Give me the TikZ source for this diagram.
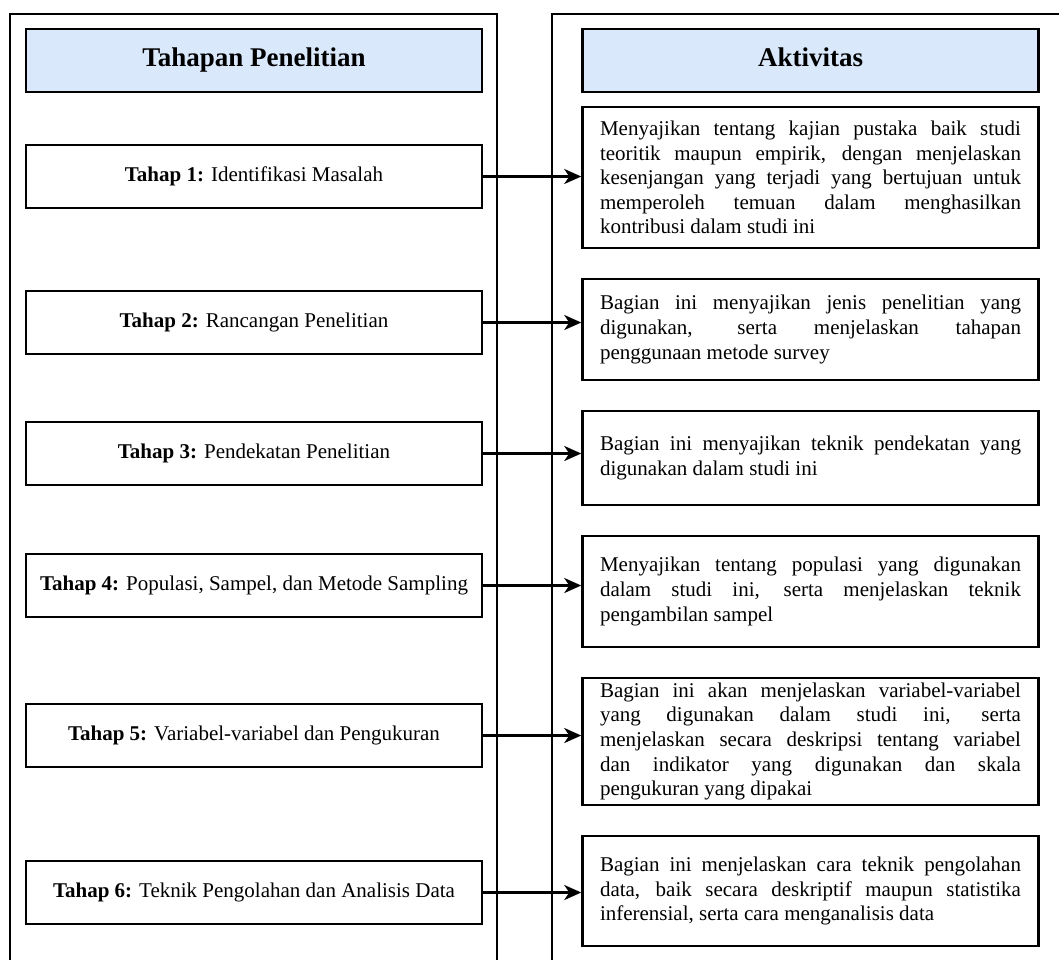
\documentclass[tikz,border=0pt]{standalone}
\usepackage{fontspec}
\setmainfont{Liberation Serif}
\usetikzlibrary{arrows.meta,calc}
\definecolor{headblue}{HTML}{DAE8FC}
\newcommand{\nohyphset}{\hyphenpenalty=10000\relax\exhyphenpenalty=10000\relax\tolerance=10000\relax}
\begin{document}
\begin{tikzpicture}[x=1pt,y=-1pt,
  panel/.style={line width=2.5pt,draw=black,line join=miter},
  head/.style={draw=black,line width=2.5pt,fill=headblue,minimum width=456pt,minimum height=63pt,inner sep=0pt,font=\fontsize{27}{32}\selectfont\bfseries},
  stage/.style={draw=black,line width=2.5pt,fill=white,minimum width=456pt,minimum height=63pt,inner sep=0pt,font=\fontsize{21}{25}\selectfont},
  act/.style={draw=black,line width=2.5pt,fill=white,minimum width=456pt,inner sep=0pt,text width=421pt,align=justify,font=\fontsize{21}{24.6}\selectfont\nohyphset},
  conn/.style={line width=2.5pt,-{Stealth[length=17pt,width=15pt,inset=5pt]}}
]
\useasboundingbox (0,0) rectangle (1059,959);
% panels
\draw[panel] (10,965) -- (10,14) -- (497,14) -- (497,965);
\draw[panel] (552,965) -- (552,14) -- (1065,14);
% headers
\node[head] (hl) at (254,60.5) {\strut Tahapan Penelitian};
\node[head] (hr) at (810.5,60.5) {\strut Aktivitas};
% stages
\node[stage] (s1) at (254,176.5) {\textbf{Tahap 1:} Identifikasi Masalah};
\node[stage] (s2) at (254,322.5) {\textbf{Tahap 2:} Rancangan Penelitian};
\node[stage] (s3) at (254,453.5) {\textbf{Tahap 3:} Pendekatan Penelitian};
\node[stage] (s4) at (254,585.5) {\textbf{Tahap 4:} Populasi, Sampel, dan Metode Sampling};
\node[stage] (s5) at (254,735.5) {\textbf{Tahap 5:} Variabel-variabel dan Pengukuran};
\node[stage] (s6) at (254,892.5) {\textbf{Tahap 6:} Teknik Pengolahan dan Analisis Data};
% activities
\node[act,minimum height=141pt] (a1) at (810.5,177.5) {Menyajikan tentang kajian pustaka baik studi\linebreak teoritik maupun empirik, dengan menjelaskan\linebreak kesenjangan yang terjadi yang bertujuan untuk\linebreak memperoleh temuan dalam menghasilkan\linebreak kontribusi dalam studi ini};
\node[act,minimum height=101pt] (a2) at (810.5,329.5) {Bagian ini menyajikan jenis penelitian yang\linebreak digunakan, serta menjelaskan tahapan\linebreak penggunaan metode survey};
\node[act,minimum height=94pt] (a3) at (810.5,458) {Bagian ini menyajikan teknik pendekatan yang\linebreak digunakan dalam studi ini};
\node[act,minimum height=111pt] (a4) at (810.5,591.5) {Menyajikan tentang populasi yang digunakan\linebreak dalam studi ini, serta menjelaskan teknik\linebreak pengambilan sampel};
\node[act,minimum height=127pt] (a5) at (810.5,741.5) {Bagian ini akan menjelaskan variabel-variabel\linebreak yang digunakan dalam studi ini, serta\linebreak menjelaskan secara deskripsi tentang variabel\linebreak dan indikator yang digunakan dan skala\linebreak pengukuran yang dipakai};
\node[act,minimum height=110pt] (a6) at (810.5,891) {Bagian ini menjelaskan cara teknik pengolahan\linebreak data, baik secara deskriptif maupun statistika\linebreak inferensial, serta cara menganalisis data};
% connectors
\foreach \i in {1,...,6}{
  \draw[conn] (s\i.east) -- (s\i.east -| a\i.west);
}
\end{tikzpicture}
\end{document}
